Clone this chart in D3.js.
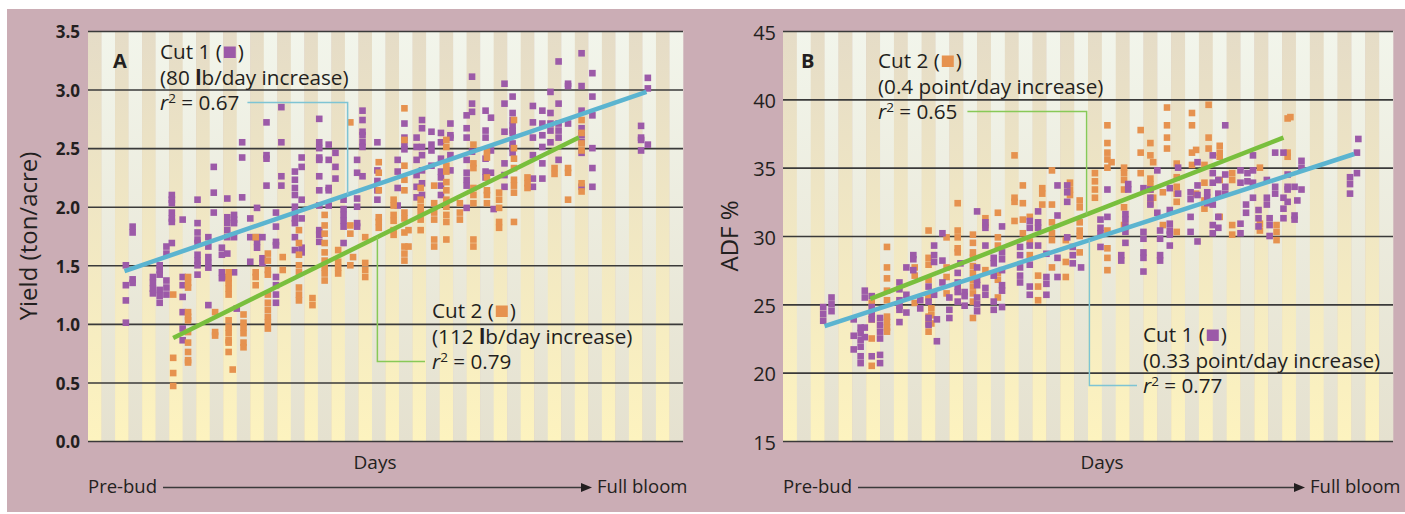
<!DOCTYPE html>
<html>
<head>
<meta charset="utf-8">
<script src="https://cdn.jsdelivr.net/npm/d3@7"></script>
<style>
  body { margin: 0; background: #fff; }
  svg { display: block; }
  text { font-family: "Open Sans", sans-serif; fill: #231f20; }
</style>
</head>
<body>
<div id="chart"></div>
<script>
// ---- data ----
// day index along the Pre-bud -> Full bloom axis, one stripe per day
const yieldTicks = [0, 0.5, 1, 1.5, 2, 2.5, 3, 3.5];
const adfTicks = [15, 20, 25, 30, 35, 40, 45];

// [day, [values...]] for each column of points
const yieldCut1 = [
  [2.8, [1.50, 1.33, 1.20, 1.01]],
  [3.3, [1.83, 1.78, 1.38, 1.35]],
  [4.8, [1.40, 1.35, 1.30, 1.26]],
  [5.3, [1.50, 1.46, 1.42, 1.29, 1.24, 1.18]],
  [5.8, [1.66, 1.60, 1.37, 1.31, 1.25]],
  [6.2, [2.10, 2.06, 2.03, 1.95, 1.90, 1.87, 1.69]],
  [7.0, [1.89, 1.40, 1.33, 1.23, 1.10, 0.96, 0.86]],
  [8.1, [2.06, 1.86, 1.78, 1.72, 1.69, 1.59, 1.54, 1.50, 1.42]],
  [8.9, [1.74, 1.66, 1.57, 1.52, 1.48, 1.16]],
  [9.3, [2.34, 2.12, 1.95]],
  [9.9, [1.65, 1.59, 1.44, 1.39]],
  [10.3, [2.07, 1.91, 1.86, 1.80, 1.74, 1.60, 1.40]],
  [10.8, [1.93, 1.89, 1.86, 1.74, 1.44]],
  [11.0, [1.13]],
  [11.4, [2.55, 2.42, 2.08]],
  [12.0, [1.90, 1.74, 1.53]],
  [12.5, [1.99, 1.74, 1.70, 1.65]],
  [12.9, [1.74, 1.56, 1.52]],
  [13.2, [2.72, 2.44, 2.41, 2.18]],
  [13.9, [1.95, 1.83, 1.70, 1.67, 1.40, 1.33, 1.25, 1.18]],
  [14.3, [2.85, 2.55, 2.26, 2.18]],
  [15.3, [2.30, 2.23, 2.16, 2.10, 2.00, 1.95, 1.90, 1.86, 1.74, 1.63]],
  [15.8, [2.42, 2.34, 2.06, 1.90, 1.65, 1.61]],
  [17.1, [2.75, 2.55, 2.50, 2.42, 2.40, 2.26, 2.14, 2.01, 1.80, 1.76, 1.70]],
  [17.8, [2.53, 2.40, 2.16, 2.14, 2.01]],
  [18.3, [2.46, 2.34, 2.24]],
  [18.9, [2.06, 1.98, 1.93, 1.88, 1.83, 1.69]],
  [19.9, [2.40, 2.29, 2.07, 2.00, 1.86, 1.83]],
  [20.3, [2.82, 2.74, 2.64, 2.61, 2.55, 2.51, 2.26]],
  [21.4, [2.55, 2.31, 2.22, 2.14, 2.06]],
  [22.9, [2.40, 2.30, 2.16, 2.01]],
  [23.4, [2.71, 2.59, 2.53, 2.49]],
  [24.3, [2.59, 2.51, 2.40, 2.27, 2.17, 2.08]],
  [24.7, [2.74, 2.67, 2.51, 2.44, 2.31, 2.20, 2.10]],
  [25.4, [2.64, 2.53, 2.48, 2.35]],
  [26.1, [2.63, 2.55, 2.41, 2.30, 2.25, 2.18, 2.10]],
  [26.8, [2.71, 2.61, 2.59, 2.44, 2.31]],
  [28.0, [2.78, 2.67, 2.59, 2.40, 2.29, 2.23, 2.18, 1.99]],
  [28.4, [3.11, 2.88, 2.81, 2.47]],
  [29.4, [2.82, 2.65, 2.59, 2.41, 2.30, 2.25]],
  [29.8, [2.76, 2.48, 2.29]],
  [30.0, [1.98]],
  [30.8, [3.05, 2.88, 2.64, 2.37, 2.27, 2.17]],
  [31.4, [2.94, 2.80, 2.74, 2.69, 2.65, 2.63, 2.54, 2.50, 2.46]],
  [32.9, [2.86, 2.72, 2.59, 2.44, 2.24, 2.17]],
  [33.6, [2.82, 2.71, 2.61, 2.51, 2.37, 2.24]],
  [34.2, [2.98, 2.80, 2.71, 2.65, 2.55]],
  [34.8, [3.24, 2.88, 2.71, 2.65, 2.59, 2.40]],
  [35.5, [3.05, 3.03, 2.71]],
  [36.5, [3.31, 3.03, 2.82, 2.67, 2.61, 2.55, 2.46, 2.17]],
  [37.3, [3.14, 2.94, 2.78, 2.50, 2.33, 2.17]],
  [40.9, [2.69, 2.59, 2.57, 2.48]],
  [41.4, [3.10, 3.01, 2.53]]
];

const yieldCut2 = [
  [6.3, [1.25, 0.71, 0.58, 0.47]],
  [7.4, [1.40, 1.35, 1.31, 1.10, 1.06, 1.03, 0.93, 0.84, 0.76, 0.69, 0.67]],
  [9.4, [1.10, 0.93, 0.90]],
  [10.4, [1.44, 1.39, 1.35, 1.30, 1.25, 1.03, 0.97, 0.92, 0.86, 0.84, 0.76]],
  [10.7, [0.61]],
  [11.5, [1.08, 1.01, 0.97, 0.92, 0.84, 0.80]],
  [12.4, [1.74, 1.44, 1.40, 1.33]],
  [13.3, [1.60, 1.54, 1.46, 1.42, 1.25, 1.18, 1.12, 1.06, 1.01, 0.96]],
  [14.4, [1.57, 1.46]],
  [15.6, [1.80, 1.69, 1.59, 1.50, 1.44, 1.31, 1.25, 1.20]],
  [16.6, [1.22, 1.16]],
  [17.5, [1.93, 1.84, 1.77, 1.69, 1.61, 1.54, 1.48, 1.43, 1.37]],
  [18.5, [1.63, 1.53, 1.48, 1.43]],
  [19.4, [2.72, 1.84, 1.77, 1.50]],
  [19.6, [1.57]],
  [20.5, [1.74, 1.52, 1.46, 1.40]],
  [21.5, [2.38, 2.29, 2.14, 1.91, 1.87, 1.82]],
  [22.6, [2.06, 2.01, 1.93, 1.88, 1.80, 1.76]],
  [23.4, [2.84, 2.57, 2.35, 2.23, 2.14, 1.95, 1.90, 1.78, 1.66, 1.60, 1.54]],
  [23.7, [1.80, 1.66]],
  [24.6, [2.16, 2.06, 2.00, 1.95, 1.89, 1.80]],
  [25.6, [2.18, 2.03, 1.95, 1.89, 1.72, 1.66]],
  [26.5, [2.57, 2.51, 2.35, 2.30, 2.21, 2.14, 2.06, 2.00, 1.93, 1.87, 1.72]],
  [27.5, [2.03, 1.95, 1.89]],
  [28.5, [2.53, 2.37, 2.33, 2.16, 2.10, 2.03, 1.72, 1.66]],
  [29.5, [2.47, 2.42, 2.25, 2.14, 2.10, 2.03]],
  [30.4, [2.12, 2.06, 1.99, 1.87, 1.82]],
  [31.5, [2.74, 2.50, 2.41, 2.33, 2.23, 2.18, 2.12, 1.87]],
  [32.5, [2.25, 2.20, 2.16]],
  [34.5, [2.33, 2.28]],
  [35.5, [2.33, 2.29, 2.06]],
  [36.5, [2.74, 2.63, 2.54, 2.48, 2.20, 2.13]]
];

const adfCut1 = [
  [2.9, [24.8, 24.3, 23.8]],
  [3.5, [25.5, 25.0, 24.5]],
  [5.1, [23.9, 22.7, 21.7]],
  [5.6, [23.3, 22.9, 22.4, 21.9, 21.2, 20.7]],
  [5.9, [26.0, 25.5, 23.3, 22.6]],
  [6.4, [25.6, 24.8, 24.3, 23.9, 21.2]],
  [7.0, [24.0, 23.5, 23.0, 22.5, 21.3, 20.7]],
  [8.4, [26.6, 26.1, 25.3, 24.9, 24.6, 23.7]],
  [8.9, [27.7, 25.7, 24.4]],
  [9.4, [28.6, 28.3, 27.5]],
  [9.9, [25.3, 24.7]],
  [10.5, [26.3, 25.2, 24.0, 23.5]],
  [10.9, [29.3, 28.6, 28.1, 25.7]],
  [11.1, [23.9, 22.3]],
  [11.5, [30.2, 28.2, 26.6]],
  [12.0, [25.5, 24.6, 24.0]],
  [12.6, [27.3, 26.6, 26.3, 25.9, 25.2]],
  [12.8, [28.0]],
  [13.1, [25.9, 25.6, 24.9]],
  [14.0, [31.8, 27.7, 26.8, 26.4, 25.5, 25.0, 24.5]],
  [14.6, [31.0, 30.6, 29.3, 26.2, 25.7]],
  [15.2, [28.4, 28.0, 27.1, 25.2, 24.6]],
  [15.8, [30.7, 28.8, 28.3, 27.5, 26.4, 26.0, 24.8]],
  [17.1, [29.2, 28.6, 27.7, 27.1, 26.6]],
  [17.8, [31.1, 30.6, 29.3, 27.9, 26.3, 25.7]],
  [18.4, [31.8, 31.0, 30.6, 29.3]],
  [19.0, [28.7, 27.0, 26.5, 25.7]],
  [19.8, [33.7, 31.5, 28.4, 27.0]],
  [20.5, [33.7, 33.2, 32.5, 29.9]],
  [20.9, [29.2, 28.6, 28.0]],
  [21.5, [27.7]],
  [22.9, [31.2, 30.6, 30.2, 29.2]],
  [23.4, [33.4, 31.4]],
  [24.4, [28.6, 28.2]],
  [24.7, [31.6, 31.2, 30.7, 30.3, 29.5]],
  [24.9, [33.8, 33.4]],
  [26.0, [33.5, 30.3, 29.8, 28.8, 28.4, 27.4]],
  [26.5, [33.4, 32.8, 32.3]],
  [27.0, [34.8, 31.7]],
  [27.2, [30.4, 29.8, 28.6, 28.2]],
  [27.9, [33.5, 31.9, 30.9, 30.4, 30.1, 29.3]],
  [28.5, [35.0, 33.1]],
  [29.4, [33.2, 32.7, 31.4, 30.3]],
  [29.9, [35.4, 33.7, 33.0, 29.6]],
  [30.6, [33.2, 32.8, 32.4]],
  [31.0, [35.9, 34.6, 33.9, 32.3, 30.8, 30.2]],
  [31.4, [34.1, 33.1, 31.4, 30.6]],
  [31.9, [38.1, 34.5, 33.6, 33.1]],
  [33.0, [34.8, 33.9, 30.9, 30.2]],
  [33.4, [32.3, 31.7]],
  [33.5, [34.6, 34.0]],
  [33.9, [35.9, 34.8, 33.9, 32.8]],
  [34.3, [31.9, 31.3, 30.7]],
  [34.9, [34.1, 32.8, 32.3]],
  [35.1, [31.3, 30.8, 30.0]],
  [35.5, [36.1, 33.6, 33.1]],
  [36.1, [36.1, 32.8, 32.0, 31.3]],
  [36.4, [34.5, 33.6, 33.4, 32.5]],
  [36.9, [33.6, 31.5, 31.2]],
  [37.1, [32.6]],
  [37.4, [35.5, 35.0, 33.4]],
  [40.9, [34.3, 33.8, 33.1]],
  [41.4, [36.1, 34.6]],
  [41.5, [37.1]]
];

const adfCut2 = [
  [6.4, [25.1, 23.9, 22.5, 20.5]],
  [7.5, [29.2, 27.7, 26.9, 26.0, 25.3, 24.1, 23.7, 23.3, 23.0]],
  [9.5, [27.7, 27.1, 25.1]],
  [10.5, [30.4, 28.4, 27.9, 26.8, 25.7, 25.5, 24.1, 23.6, 23.0]],
  [10.7, [24.7, 24.2, 23.6]],
  [11.8, [29.9, 27.7, 27.0, 25.8]],
  [12.6, [32.4, 30.4, 29.9, 29.1, 28.8]],
  [13.7, [30.1, 29.5, 28.8, 28.4, 27.8, 27.3, 26.8, 26.3, 25.8, 25.2, 24.0]],
  [14.6, [31.3, 30.8, 27.5]],
  [15.5, [31.7, 29.9, 29.3, 27.3, 26.8, 25.5]],
  [16.7, [35.9, 32.8, 32.5, 31.1]],
  [17.3, [33.7, 32.4, 31.2, 30.2]],
  [17.8, [31.4, 29.6, 28.6]],
  [18.4, [27.1, 26.3, 25.3]],
  [18.7, [33.5, 33.1, 32.3]],
  [19.4, [34.8, 32.3, 31.0, 30.2, 29.7, 27.7]],
  [20.4, [29.7, 28.1, 27.0]],
  [20.7, [33.9, 33.4, 33.0]],
  [21.4, [32.6, 32.1, 31.0, 30.4, 30.0, 28.8]],
  [22.5, [34.6, 34.0, 33.4, 32.8]],
  [23.4, [38.1, 36.8, 36.1, 35.6, 35.0, 30.4, 29.1, 28.4, 27.5]],
  [23.7, [35.4]],
  [24.6, [35.0, 34.6, 34.1, 33.4, 32.1, 30.8]],
  [25.8, [37.75, 36.1, 34.6]],
  [26.5, [36.8, 35.9, 34.2, 33.8, 33.4, 32.4]],
  [26.7, [35.4, 32.8]],
  [27.4, [33.2, 30.8]],
  [27.7, [39.4, 38.1, 37.2, 36.4]],
  [28.4, [35.3, 34.3, 33.6, 33.1, 32.5, 30.3]],
  [29.5, [39.0, 38.1, 36.1, 35.2]],
  [29.8, [36.3, 33.1]],
  [30.4, [35.2, 33.9, 32.6, 32.0]],
  [30.7, [39.6, 37.2, 36.4]],
  [31.5, [36.6, 36.1, 35.8, 34.1, 31.4]],
  [32.4, [34.6, 34.1, 30.8, 30.1]],
  [34.4, [35.0, 30.9, 30.4]],
  [35.6, [30.8, 30.3, 29.7]],
  [36.4, [38.6, 36.1, 35.8]],
  [36.6, [38.7]]
];

// regression lines: [startDay, value], [endDay, value]
const yieldFit1 = [[2.7, 1.45], [41.3, 2.98]];
const yieldFit2 = [[6.3, 0.88], [36.3, 2.59]];
const adfFit1 = [[3.0, 23.4], [41.2, 36.0]];
const adfFit2 = [[6.3, 25.4], [36.1, 37.2]];

const yieldNotes = [
  { cut: 1, rate: "80", unit: "lb/day", r2: "0.67" },
  { cut: 2, rate: "112", unit: "lb/day", r2: "0.79" }
];
const adfNotes = [
  { cut: 2, rate: "0.4", unit: "point/day", r2: "0.65" },
  { cut: 1, rate: "0.33", unit: "point/day", r2: "0.77" }
];

// ---- drawing ----
const W = 1405, H = 514;
const purple = "#9c5aa8", orange = "#e6924f";
const blue = "#5bb4d0", green = "#79bf3d";
const blueThin = "#7ec4d4", greenThin = "#88c957";

const svg = d3.select("#chart").append("svg")
  .attr("width", W)
  .attr("height", H);

svg.append("rect")
  .attr("x", 7).attr("y", 9)
  .attr("width", W - 7).attr("height", H - 11)
  .attr("fill", "#cbadb5");

let defs = svg.append("defs");
function grad(id, top, bottom) {
  let g = defs.append("linearGradient")
    .attr("id", id)
    .attr("gradientUnits", "userSpaceOnUse")
    .attr("x1", 0).attr("y1", 31).attr("x2", 0).attr("y2", 441);
  g.append("stop").attr("offset", "0%").attr("stop-color", top);
  g.append("stop").attr("offset", "100%").attr("stop-color", bottom);
}
grad("stripeA", "#e5dcc7", "#fdf3bf");
grad("stripeB", "#f2f5eb", "#e5e1cf");

function fitAt(fit, d) {
  return fit[0][1] + (d - fit[0][0]) * (fit[1][1] - fit[0][1]) / (fit[1][0] - fit[0][0]);
}

function flat(cols) {
  let out = [];
  cols.forEach(c => c[1].forEach(v => out.push([c[0], v])));
  return out;
}

function drawPanel(p) {
  let x = d3.scaleLinear().domain([0, 44]).range([p.left, p.right]);
  let y = d3.scaleLinear().domain(p.domain).range([441, 31]);
  let g = svg.append("g");

  // stripes, one per day
  g.selectAll(".stripe")
    .data(d3.range(44))
    .enter()
    .append("rect")
    .attr("x", d => x(d))
    .attr("y", 31)
    .attr("width", d => x(d + 1) - x(d) + 0.3)
    .attr("height", 410)
    .attr("fill", d => d % 2 ? "url(#stripeB)" : "url(#stripeA)");

  // gridlines + tick labels
  let axis = d3.axisLeft(y)
    .tickValues(p.ticks)
    .tickSize(-(p.right - p.left))
    .tickPadding(p.tickPad)
    .tickFormat(p.fmt);
  let ax = g.append("g")
    .attr("transform", `translate(${p.left},0)`)
    .call(axis);
  ax.select(".domain").remove();
  ax.selectAll(".tick line")
    .attr("stroke", "#3a3a3a")
    .attr("stroke-width", 1.6);
  ax.selectAll(".tick text")
    .attr("fill", "#231f20")
    .attr("font-family", "'Open Sans', sans-serif")
    .attr("font-size", p.tickSize)
    .attr("font-weight", p.tickWeight)
    .attr("dy", "0.4em");

  // points
  p.series.forEach(s => {
    g.append("g").selectAll("rect")
      .data(flat(s.cols))
      .enter()
      .append("rect")
      .attr("x", d => x(d[0]) - 3.3)
      .attr("y", d => y(d[1]) - 3.3)
      .attr("width", 6.6)
      .attr("height", 6.6)
      .attr("fill", s.color);
  });

  // regression lines
  p.fits.forEach(f => {
    g.append("line")
      .attr("x1", x(f.fit[0][0])).attr("y1", y(f.fit[0][1]))
      .attr("x2", x(f.fit[1][0])).attr("y2", y(f.fit[1][1]))
      .attr("stroke", f.color)
      .attr("stroke-width", 4.5);
  });

  // panel letter
  g.append("text")
    .attr("x", p.left + p.letterDx).attr("y", 68)
    .attr("font-size", 20).attr("font-weight", 700)
    .text(p.letter);

  // annotations with leader lines
  p.notes.forEach((n, i) => {
    let L = p.noteLayout[i];
    let fs = 20.7, lh = 25.5;
    let t1 = g.append("text").attr("x", L.x).attr("y", L.y).attr("font-size", fs)
      .text(`Cut ${n.cut} (`);
    let w1 = t1.node().getComputedTextLength();
    g.append("rect")
      .attr("x", L.x + w1 + 2).attr("y", L.y - 12.5)
      .attr("width", 12).attr("height", 11.5)
      .attr("fill", n.cut === 1 ? purple : orange);
    g.append("text").attr("x", L.x + w1 + 16).attr("y", L.y).attr("font-size", fs).text(")");

    let t2 = g.append("text").attr("x", L.x).attr("y", L.y + lh).attr("font-size", fs);
    if (n.unit.startsWith("lb")) {
      t2.append("tspan").text(`(${n.rate} `);
      t2.append("tspan").attr("font-weight", 700).text("l");
      t2.append("tspan").text(`${n.unit.slice(1)} increase)`);
    } else {
      t2.text(`(${n.rate} ${n.unit} increase)`);
    }

    let t3 = g.append("text").attr("x", L.x).attr("y", L.y + 2 * lh).attr("font-size", fs);
    t3.append("tspan").attr("font-style", "italic").text("r");
    t3.append("tspan").attr("font-size", 13.5).attr("dy", -7.5).text("2");
    t3.append("tspan").attr("dy", 7.5).text(` = ${n.r2}`);
    let w3 = t3.node().getComputedTextLength();

    let fit = n.cut === 1 ? p.fits[0].fit : p.fits[1].fit;
    let ex = x(L.elbowDay);
    let ey = y(fitAt(fit, L.elbowDay));
    let sx = ex > L.x ? L.x + w3 + L.gap : L.x - L.gap;
    let ly = L.y + 2 * lh - 7.5;
    g.append("path")
      .attr("d", `M${sx},${ly}H${ex}V${ey}`)
      .attr("fill", "none")
      .attr("stroke", n.cut === 1 ? blueThin : greenThin)
      .attr("stroke-width", 1.5);
  });

  // axis titles
  g.append("text")
    .attr("transform", `translate(${p.titleX},236) rotate(-90)`)
    .attr("text-anchor", "middle")
    .attr("font-size", 24)
    .text(p.title);

  g.append("text")
    .attr("x", p.daysX).attr("y", 469)
    .attr("text-anchor", "middle")
    .attr("font-size", 19)
    .text("Days");

  // Pre-bud -> Full bloom arrow
  let pre = g.append("text").attr("x", p.left).attr("y", 493).attr("font-size", 18.5).text("Pre-bud");
  let pw = pre.node().getComputedTextLength();
  g.append("line")
    .attr("x1", p.left + pw + 6).attr("y1", 487.5)
    .attr("x2", p.arrowTip - 8).attr("y2", 487.5)
    .attr("stroke", "#3a3a3a").attr("stroke-width", 1.6);
  g.append("path")
    .attr("d", `M${p.arrowTip},487.5L${p.arrowTip - 11},483L${p.arrowTip - 11},492Z`)
    .attr("fill", "#231f20");
  g.append("text").attr("x", p.arrowTip + 5).attr("y", 493).attr("font-size", 18.5).text("Full bloom");
}

drawPanel({
  left: 88, right: 683, domain: [0, 3.5], ticks: yieldTicks,
  fmt: d3.format(".1f"), tickPad: 8, tickSize: 17, tickWeight: 700,
  series: [{ cols: yieldCut1, color: purple }, { cols: yieldCut2, color: orange }],
  fits: [{ fit: yieldFit1, color: blue }, { fit: yieldFit2, color: green }],
  letter: "A", letterDx: 25,
  notes: yieldNotes,
  noteLayout: [
    { x: 160, y: 59, elbowDay: 19.2, gap: 8 },
    { x: 432, y: 318, elbowDay: 21.4, gap: 7 }
  ],
  title: "Yield (ton/acre)", titleX: 37, daysX: 375, arrowTip: 592
});

drawPanel({
  left: 783, right: 1393, domain: [15, 45], ticks: adfTicks,
  fmt: d3.format("d"), tickPad: 7, tickSize: 20, tickWeight: 400,
  series: [{ cols: adfCut2, color: orange }, { cols: adfCut1, color: purple }],
  fits: [{ fit: adfFit1, color: blue }, { fit: adfFit2, color: green }],
  letter: "B", letterDx: 18,
  notes: adfNotes,
  noteLayout: [
    { x: 878, y: 68, elbowDay: 21.9, gap: 10 },
    { x: 1143, y: 342, elbowDay: 22.1, gap: 6 }
  ],
  title: "ADF %", titleX: 738, daysX: 1102, arrowTip: 1305
});
</script>
</body>
</html>
